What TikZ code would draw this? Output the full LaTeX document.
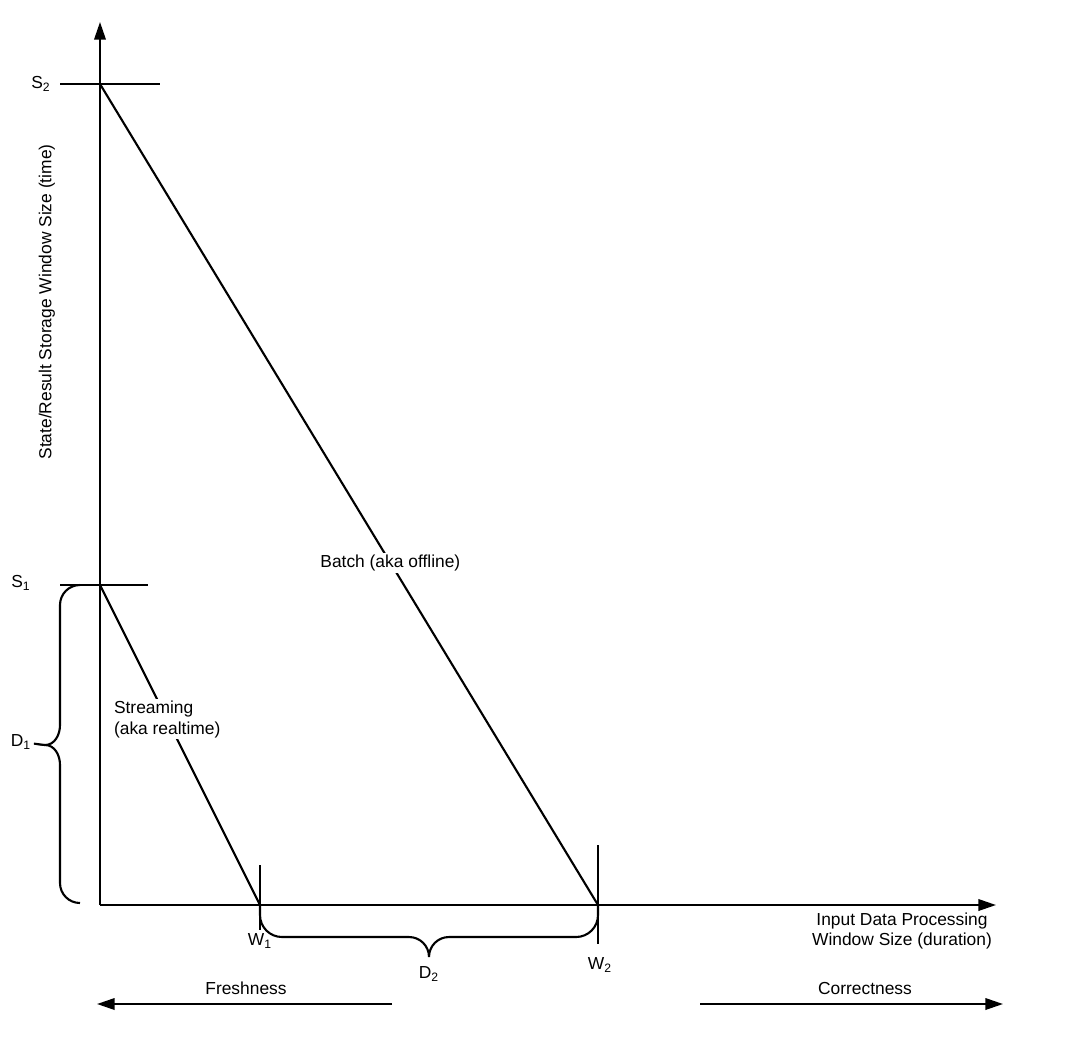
\documentclass[tikz,border=0pt]{standalone}
\usepackage{fontspec}
\setmainfont{Liberation Sans}
\usetikzlibrary{arrows.meta}

\begin{document}
\begin{tikzpicture}[x=0.02cm, y=-0.02cm, line width=1.2pt,
    font=\fontsize{9.9}{11.6}\selectfont,
    axis/.style={-{Triangle[length=10pt,width=6.5pt]}},
    gap/.style={fill=white, inner sep=1pt},
    lbl/.style={inner sep=1pt}]
  \useasboundingbox (0,0) rectangle (1091,1048);
  % points on the axes
  \coordinate (O) at (100,905);
  \coordinate (ytop) at (100,22);
  \coordinate (xend) at (996,905);
  \coordinate (s2) at (100,84);
  \coordinate (s1) at (100,585);
  \coordinate (w1) at (260,905);
  \coordinate (w2) at (598,905);
  \draw[axis] (O) -- (ytop);
  \draw[axis] (O) -- (xend);
  % ticks
  \draw (s2) ++(-40,0) -- ++(100,0);
  \draw (s1) ++(-40,0) -- ++(88,0);
  \draw (w1) ++(0,-40) -- ++(0,65);
  \draw (w2) ++(0,-60) -- ++(0,99);
  \node[lbl] (s2lbl) at (41,84) {S\textsubscript{2}};
  \node[lbl] (s1lbl) at (21,583) {S\textsubscript{1}};
  \node[lbl] (w1lbl) at (260,941) {W\textsubscript{1}};
  \node[lbl] (w2lbl) at (600,965) {W\textsubscript{2}};
  % the two lines
  \draw (s2) -- node[gap, pos=0.583] (batch) {Batch (aka offline)} (w2);
  \draw (s1) -- node[gap, pos=0.42, align=left] (stream) {Streaming\\(aka realtime)} (w1);
  % braces
  \coordinate (d1tip) at (45,745);
  \draw (80,585) to[out=180,in=90] (60,605) -- (60,725)
    to[out=270,in=0] (d1tip) to[out=0,in=90] (60,765) -- (60,883)
    to[out=270,in=180] (80,903);
  \node[lbl] (d1) at (21,742) {D\textsubscript{1}};
  \draw (d1) -- (d1tip);
  \draw (w1) -- (260,915) to[out=270,in=180] (282,937) -- (409,937)
    to[out=0,in=90] (429,957) to[out=90,in=180] (449,937) -- (576,937)
    to[out=0,in=270] (598,915) -- (w2);
  \node[lbl] (d2) at (429,974) {D\textsubscript{2}};
  % axis titles
  \node[lbl, rotate=90] (ylbl) at (47,302) {State/Result Storage Window Size (time)};
  \node[lbl, align=center] (xlbl) at (902,931) {Input Data Processing\\Window Size (duration)};
  % trade-off arrows
  \coordinate (fr0) at (392,1004);
  \coordinate (fr1) at (97,1004);
  \coordinate (co0) at (700,1004);
  \coordinate (co1) at (1003,1004);
  \draw[axis] (fr0) -- (fr1);
  \draw[axis] (co0) -- (co1);
  \node[lbl] (fresh) at (246,988) {Freshness};
  \node[lbl] (correct) at (865,988) {Correctness};
\end{tikzpicture}
\end{document}
